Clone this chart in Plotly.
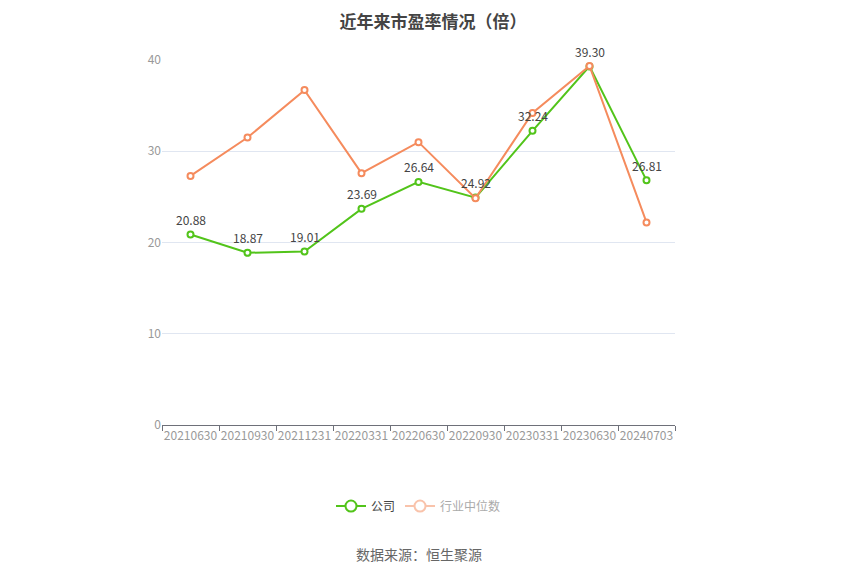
import plotly.graph_objects as go

# data
dates = ["20210630", "20210930", "20211231", "20220331", "20220630",
         "20220930", "20230331", "20230630", "20240703"]
company_pe = [20.88, 18.87, 19.01, 23.69, 26.64, 24.92, 32.24, 39.30, 26.81]
industry_pe = [27.3, 31.5, 36.7, 27.6, 31.0, 24.85, 34.2, 39.35, 22.2]

green = "#52C41A"
orange = "#F58B5D"
font = "Noto Sans CJK SC"

fig = go.Figure()

fig.add_trace(go.Scatter(
    x=dates, y=company_pe, mode="lines+markers",
    line=dict(color=green, width=2),
    marker=dict(symbol="circle", size=6, color="white", line=dict(color=green, width=2)),
    showlegend=False, cliponaxis=False,
))
fig.add_trace(go.Scatter(
    x=dates, y=industry_pe, mode="lines+markers",
    line=dict(color=orange, width=2),
    marker=dict(symbol="circle", size=6, color="white", line=dict(color=orange, width=2)),
    showlegend=False, cliponaxis=False,
))

# legend entries
fig.add_trace(go.Scatter(
    x=[None], y=[None], mode="lines+markers", name="公司",
    line=dict(color=green, width=2),
    marker=dict(size=11, color="white", line=dict(color=green, width=2)),
))
fig.add_trace(go.Scatter(
    x=[None], y=[None], mode="lines+markers",
    name="<span style='color:#aaaaaa'>行业中位数</span>",
    line=dict(color="#F9C3AB", width=2),
    marker=dict(size=11, color="white", line=dict(color="#F9C3AB", width=2)),
))

# data labels for the company series (category index as x)
labels = [dict(x=i, y=v, xref="x", yref="y", text=f"{v:.2f}", showarrow=False, yshift=15,
               font=dict(size=12, color="#444", family=font))
          for i, v in enumerate(company_pe)]

# page body adds an 8px offset, margins compensate for it
fig.update_layout(
    width=850, height=575,
    margin=dict(l=154, r=183, t=52, b=158),
    paper_bgcolor="white", plot_bgcolor="white",
    font=dict(family=font, color="#999"),
    title=dict(text="<b>近年来市盈率情况（倍）</b>", x=0.5, xanchor="center",
               y=0.976, yanchor="middle",
               font=dict(size=17, color="#444", family=font)),
    legend=dict(orientation="h", x=0.5, xanchor="center", y=-0.222, yanchor="middle",
                font=dict(size=12, color="#444", family=font), itemwidth=30),
    annotations=labels + [dict(text="数据来源：恒生聚源", x=0.5, xref="paper", y=-0.353, yref="paper",
                               yanchor="middle", showarrow=False,
                               font=dict(size=14, color="#666", family=font))],
)
fig.update_xaxes(
    type="category", range=[-0.5, 8.5], tickson="boundaries", tickangle=0,
    showline=True, linecolor="#6E7079", linewidth=1,
    ticks="outside", ticklen=5, tickcolor="#6E7079",
    showgrid=False, tickfont=dict(size=12, color="#999"),
)
fig.update_yaxes(
    range=[0, 40], dtick=10, showline=False, zeroline=False,
    gridcolor="#E0E6F1", ticks="", tickfont=dict(size=12, color="#999"),
)

fig.write_html("out.html")
